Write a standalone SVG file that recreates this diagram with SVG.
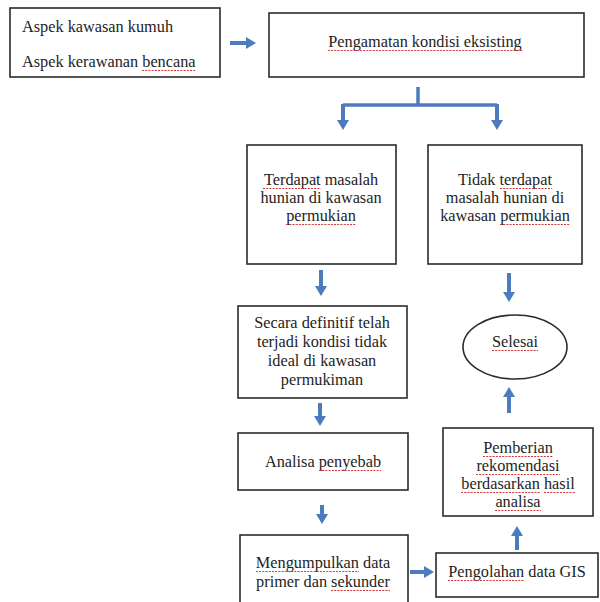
<svg xmlns="http://www.w3.org/2000/svg" width="600" height="602" viewBox="0 0 600 602">
<style>
.box{fill:#fff;stroke:#2b2b2b;stroke-width:1.6}
.t{font-family:"Liberation Serif","Times New Roman",serif;font-size:16.3px;fill:#1e1e1e}
.c{text-anchor:middle}
.sq{stroke:#d23a3a;stroke-width:1.2;stroke-dasharray:2 1.2;fill:none}
.ar{stroke:#4c7cbd;stroke-width:4;fill:none;marker-end:url(#ah)}
.ln{stroke:#4c7cbd;stroke-width:3.5;fill:none}
</style>
<defs>
<marker id="ah" viewBox="0 0 10 12" refX="0" refY="6" markerWidth="10" markerHeight="12" markerUnits="userSpaceOnUse" orient="auto">
<path d="M0,0 L10,6 L0,12 Z" fill="#4c7cbd"/>
</marker>
</defs>
<rect width="600" height="602" fill="#fff"/>
<g id="connectors">
<path class="ln" d="M418,87 V105 M343,105 H497"/>
<line class="ar" x1="343" y1="104" x2="343" y2="120"/>
<line class="ar" x1="497" y1="104" x2="497" y2="120"/>
<line class="ar" x1="230" y1="43" x2="246" y2="43"/>
<line class="ar" x1="321" y1="270" x2="321" y2="286"/>
<line class="ar" x1="509" y1="273" x2="509" y2="292"/>
<line class="ar" x1="320" y1="403" x2="320" y2="416"/>
<line class="ar" x1="509" y1="413" x2="509" y2="397"/>
<line class="ar" x1="322" y1="505" x2="322" y2="514"/>
<line class="ar" x1="410" y1="572" x2="424" y2="572"/>
<line class="ar" x1="517" y1="550" x2="517" y2="536"/>
</g>
<g id="aspek">
<rect class="box" x="10" y="8" width="210" height="69"/>
<text class="t" x="22" y="32">Aspek kawasan kumuh</text>
<text class="t" x="22" y="67">Aspek kerawanan bencana</text>
<line class="sq" x1="142" y1="70.5" x2="196" y2="70.5"/>
</g>
<g id="pengamatan">
<rect class="box" x="269" y="13" width="315" height="64"/>
<text class="t c" x="425" y="47">Pengamatan kondisi eksisting</text>
<line class="sq" x1="328" y1="50.5" x2="522" y2="50.5"/>
</g>
<g id="terdapat">
<rect class="box" x="247" y="145" width="149" height="119"/>
<text class="t c" x="321" y="185">Terdapat masalah</text>
<text class="t c" x="321" y="203">hunian di kawasan</text>
<text class="t c" x="321" y="221">permukian</text>
<line class="sq" x1="263" y1="188.5" x2="321" y2="188.5"/>
<line class="sq" x1="286" y1="224.5" x2="356" y2="224.5"/>
</g>
<g id="tidak">
<rect class="box" x="428" y="145" width="154" height="119"/>
<text class="t c" x="505" y="185">Tidak terdapat</text>
<text class="t c" x="505" y="203">masalah hunian di</text>
<text class="t c" x="505" y="221">kawasan permukian</text>
<line class="sq" x1="500" y1="188.5" x2="552" y2="188.5"/>
<line class="sq" x1="500" y1="224.5" x2="570" y2="224.5"/>
</g>
<g id="definitif">
<rect class="box" x="238" y="306" width="169" height="92"/>
<text class="t c" x="322" y="328">Secara definitif telah</text>
<text class="t c" x="322" y="347">terjadi kondisi tidak</text>
<text class="t c" x="322" y="366">ideal di kawasan</text>
<text class="t c" x="322" y="385">permukiman</text>
</g>
<g id="selesai">
<ellipse class="box" cx="515" cy="347" rx="52" ry="32"/>
<text class="t c" x="515" y="347">Selesai</text>
<line class="sq" x1="492" y1="350.5" x2="538" y2="350.5"/>
</g>
<g id="analisa">
<rect class="box" x="238" y="433" width="170" height="57"/>
<text class="t c" x="323" y="467">Analisa penyebab</text>
<line class="sq" x1="319" y1="470.5" x2="381" y2="470.5"/>
</g>
<g id="rekomendasi">
<rect class="box" x="443" y="428" width="150" height="88"/>
<text class="t c" x="518" y="453">Pemberian</text>
<text class="t c" x="518" y="471">rekomendasi</text>
<text class="t c" x="518" y="489">berdasarkan hasil</text>
<text class="t c" x="518" y="507">analisa</text>
<line class="sq" x1="483" y1="456.5" x2="553" y2="456.5"/>
<line class="sq" x1="476" y1="474.5" x2="560" y2="474.5"/>
<line class="sq" x1="461" y1="492.5" x2="540" y2="492.5"/>
<line class="sq" x1="544" y1="492.5" x2="575" y2="492.5"/>
<line class="sq" x1="495" y1="510.5" x2="541" y2="510.5"/>
</g>
<g id="mengumpulkan">
<rect class="box" x="240" y="535" width="168" height="72"/>
<text class="t c" x="323" y="568">Mengumpulkan data</text>
<text class="t c" x="323" y="587">primer dan sekunder</text>
<line class="sq" x1="256" y1="571.5" x2="359" y2="571.5"/>
<line class="sq" x1="331" y1="590.5" x2="390" y2="590.5"/>
</g>
<g id="gis">
<rect class="box" x="436" y="553" width="162" height="44"/>
<text class="t c" x="517" y="577">Pengolahan data GIS</text>
<line class="sq" x1="448" y1="580.5" x2="524" y2="580.5"/>
</g>
</svg>
